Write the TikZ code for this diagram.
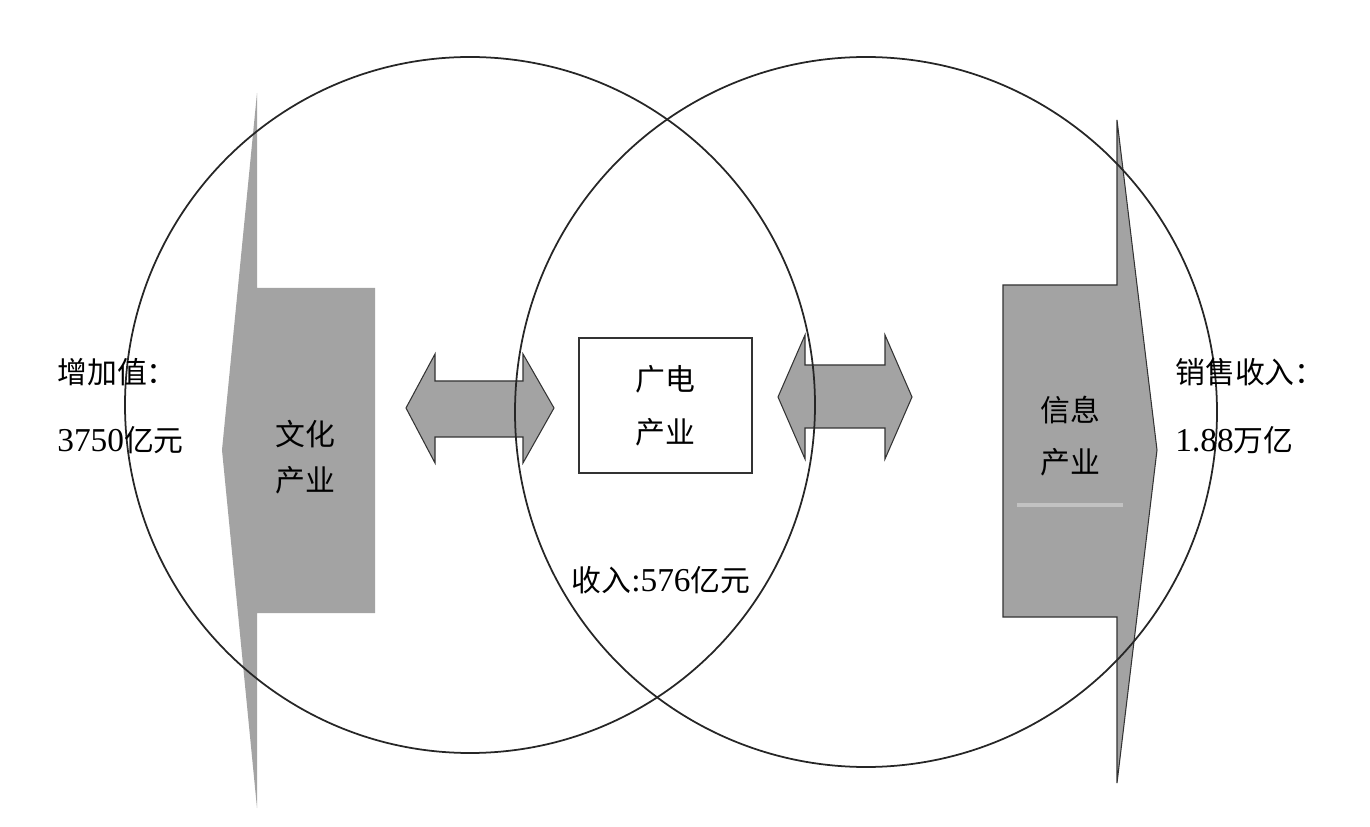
\documentclass[tikz,border=0pt]{standalone}
\usepackage{fontspec}
\setmainfont{Liberation Serif}
\newfontfamily\cjk{Noto Sans CJK SC}
\usetikzlibrary{arrows.meta,calc,positioning}
\newcommand\lat[1]{{\rmfamily\fontsize{19}{20}\selectfont #1}}
\tikzset {
  every node/.style={font=\cjk\fontsize{17}{30}\selectfont},
  shaded/.style={fill=black!36},
  ring/.style={draw=black!85,line width=1pt},
  outline/.style={draw=black!80,line width=0.6pt},
  label/.style={anchor=west,inner sep=0pt},
}

\begin{document}
\begin{tikzpicture}[x=0.02cm,y=-0.02cm]
      \useasboundingbox (0,0) rectangle (1370,827);
      \fill[shaded] (375,288) -- (257,288) -- (257,93) -- (222,450)
        -- (257,808) -- (257,613) -- (375,613) -- cycle;
      \draw[shaded,outline] (1003,285) -- (1117,285) -- (1117,120) -- (1157,450)
        -- (1117,783) -- (1117,617) -- (1003,617) -- cycle;
      \draw[black!24,line width=2pt] (1017,505) -- (1123,505);
      \draw[shaded,outline] (406,408) -- (435,354) -- (435,381) -- (523,381)
        -- (523,354) -- (554,408) -- (523,463) -- (523,437) -- (435,437)
        -- (435,463) -- cycle;
      \draw[shaded,outline] (778,397) -- (805,335) -- (805,365) -- (885,365)
        -- (885,335) -- (912,397) -- (885,459) -- (885,428) -- (805,428)
        -- (805,459) -- cycle;
      \draw[ring] (470,405) ellipse[x radius=345,y radius=348];
      \draw[ring] (866,412) ellipse[x radius=351,y radius=355];
      \node[draw,outline,minimum width=3.46cm,minimum height=2.7cm,align=center]
        (guangdian) at (665.5,405.5) {广电\\产业};
      \node[align=center] (wenhua) at (305,457) {文化\\[-4pt]产业};
      \node[align=center] (xinxi) at (1070,436) {信息\\产业};
      \node[label] (zengjia) at (57,372) {增加值：};
      \node[label] (zengjiaval) at (57,440) {\lat{3750}亿元};
      \node[label] (xiaoshou) at (1175,372) {销售收入：};
      \node[label] (xiaoshouval) at (1175,440) {\lat{1.88}万亿};
      \node (shouru) at (661,580) {收入\lat{:576}亿元};
    \end{tikzpicture}
\end{document}
